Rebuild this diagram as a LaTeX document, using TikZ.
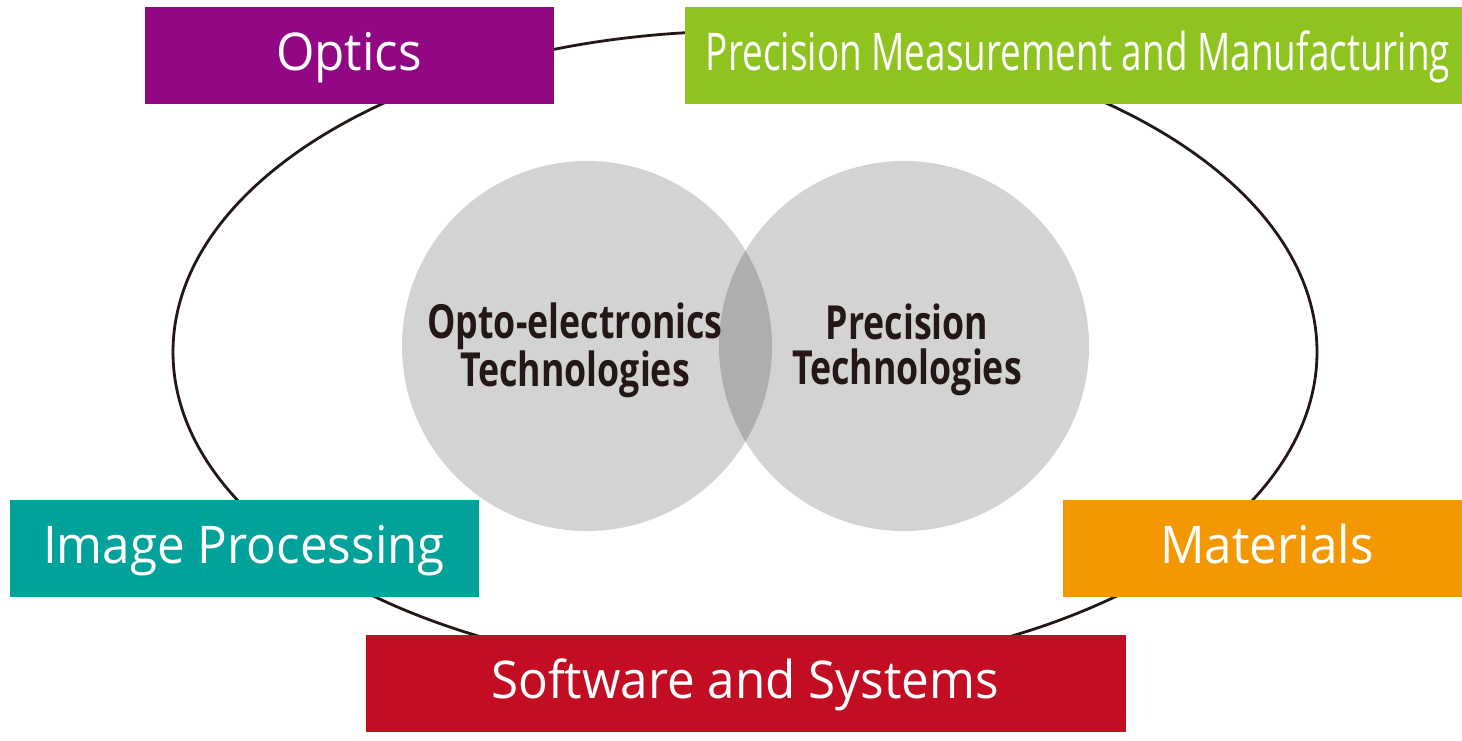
\documentclass[tikz,border=0pt]{standalone}
\usepackage{fontspec}
\setmainfont{Open Sans}
\newfontfamily\boxfont[FakeStretch=0.95]{Open Sans}
\newfontfamily\narrowfont[FakeStretch=0.71]{Open Sans}
\newfontfamily\midfont[FakeStretch=0.76]{Open Sans}[BoldFont={Open Sans Bold}]
\definecolor{cpurple}{HTML}{920783}
\definecolor{cgreen}{HTML}{8FC31F}
\definecolor{cteal}{HTML}{00A29A}
\definecolor{corange}{HTML}{F39800}
\definecolor{cred}{HTML}{C30D23}
\definecolor{cgray}{HTML}{D3D3D3}
\definecolor{cdark}{HTML}{AEAEAF}
\definecolor{ctext}{HTML}{231815}
\tikzset{
  areatext/.style={text=white, font=\boxfont\fontsize{52}{60}\selectfont, anchor=base, inner sep=0pt},
  narrowtext/.style={areatext, font=\narrowfont\fontsize{52}{60}\selectfont},
  midtext/.style={text=ctext, font=\midfont\bfseries\fontsize{47}{45}\selectfont, align=center, inner sep=0pt}
}
\begin{document}
\begin{tikzpicture}[x=1pt,y=-1pt]
\useasboundingbox (0,0) rectangle (1462,740);
% ring
\draw[ctext, line width=2.8pt] (745,352) ellipse [x radius=572, y radius=321];
% circles
\fill[cgray] (587,346) circle [radius=185];
\fill[cgray] (904,346) circle [radius=185];
\begin{scope}
  \clip (587,346) circle [radius=185];
  \fill[cdark] (904,346) circle [radius=185];
\end{scope}
% boxes
\fill[cpurple] (145,7) rectangle (553.5,103.5);
\fill[cgreen] (685,7) rectangle (1462,103.5);
\fill[cteal] (10,500) rectangle (479,597);
\fill[corange] (1063,500) rectangle (1462,597);
\fill[cred] (366,635) rectangle (1126,732);
% labels
\node[areatext] (optics) at (349,70) {Optics};
\node[narrowtext] (pmm) at (1078,70) {Precision Measurement and Manufacturing};
\node[areatext] (imgp) at (244,563) {Image Processing};
\node[areatext] (mat) at (1267,563) {Materials};
\node[areatext] (soft) at (745,698) {Software and Systems};
\node[midtext] (opto) at (575,350) {Opto-electronics\\Technologies};
\node[midtext] (prec) at (907,350) {Precision\\Technologies};
\end{tikzpicture}
\end{document}
